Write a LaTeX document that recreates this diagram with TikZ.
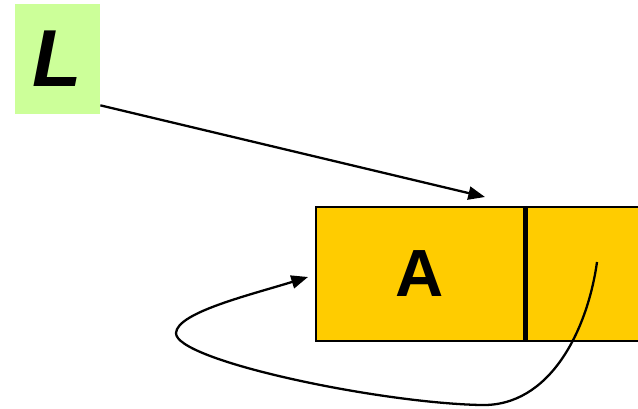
\documentclass[tikz,border=0pt]{standalone}
\usepackage{fontspec}
\setmainfont{Liberation Sans}
\usepackage{xcolor}
\usetikzlibrary{arrows.meta,positioning}

\definecolor{labelgreen}{HTML}{CCFF99}
\definecolor{cellyellow}{HTML}{FFCC00}

\begin{document}
\begin{tikzpicture}[
    label box/.style={fill=labelgreen, minimum width=1.7cm, minimum height=2.2cm,
                      inner sep=0pt, font=\fontsize{46}{46}\selectfont\bfseries\itshape},
    cell/.style={draw, line width=1.4pt, fill=cellyellow, minimum height=2.68cm,
                 inner sep=0pt, font=\fontsize{38}{38}\selectfont\bfseries},
    arrow/.style={-{Triangle[length=9.5pt,width=7.5pt]}, line width=1.3pt},
  ]
    \useasboundingbox (0,0) rectangle (12.76,-8.18);

    \node[label box] (lbl) at (1.15,-1.18) {L};

    \node[cell, minimum width=4.16cm] (data) at (8.4,-5.48) {A};
    \node[cell, minimum width=2.26cm, anchor=west] (next) at (data.east) {};
    \draw[line width=2.2pt] (data.north east) -- (data.south east);

    % pointer ends
    \coordinate (head) at (9.7,-3.94);
    \coordinate (link) at (11.94,-5.24);
    \coordinate (back) at (6.16,-5.54);

    \draw[arrow] ([yshift=0.18cm]lbl.south east) -- (head);

    \draw[arrow] (link) .. controls (11.75,-6.6) and (11.0,-8.15) .. (9.6,-8.1)
                 .. controls (7.5,-8.05) and (3.5,-7.2) .. (3.52,-6.66)
                 .. controls (3.54,-6.25) and (5.0,-5.9) .. (back);
  \end{tikzpicture}
\end{document}
